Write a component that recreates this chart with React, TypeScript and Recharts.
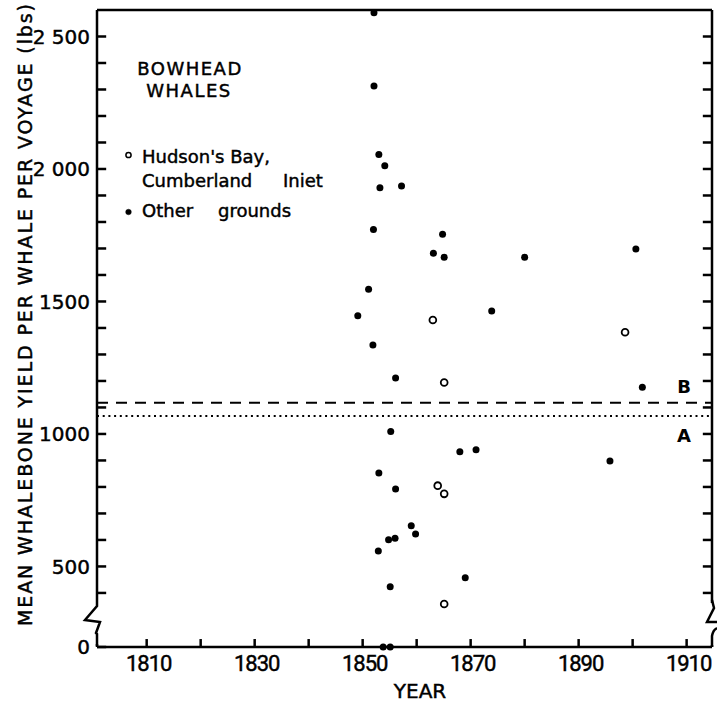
import React from 'react';
import { ScatterChart, Scatter, XAxis, YAxis, ReferenceLine, Legend } from 'recharts';

// Hudson's Bay / Cumberland Inlet voyages (open circles)
const hudsonYears = [1863.0, 1863.9, 1865.1, 1865.1, 1865.1, 1898.6];
const hudsonYield = [1430, 805, 1194, 774, 358, 1384];

// Other grounds (filled dots)
const otherYears = [
  1852.1, 1852.1, 1853.0, 1854.1, 1853.2, 1857.2, 1852.0, 1864.8, 1863.1, 1865.1, 1880.0,
  1900.6, 1851.1, 1849.1, 1873.9, 1851.9, 1856.1, 1901.8, 1855.2, 1868.0, 1871.0, 1895.8,
  1853.0, 1856.1, 1859.0, 1859.8, 1854.8, 1856.0, 1852.9, 1869.0, 1855.1, 1853.8, 1855.1,
];
const otherYield = [
  2590, 2313, 2055, 2012, 1929, 1936, 1772, 1754, 1682, 1667, 1667,
  1698, 1546, 1446, 1464, 1336, 1211, 1176, 1009, 933, 940, 898,
  853, 792, 654, 622, 601, 606, 558, 457, 423, 0, 0,
];

// mean yields: A (dotted), B (dashed)
const meanA = 1068;
const meanB = 1118;

const xTicks = [1810, 1820, 1830, 1840, 1850, 1860, 1870, 1880, 1890, 1900, 1910];
const xTickLabels = ['1810', '', '1830', '', '1850', '', '1870', '', '1890', '', '1910'];
const yTicks = [0, 400, 500, 600, 700, 800, 900, 1000, 1100, 1200, 1300, 1400, 1500, 1600, 1700, 1800, 1900, 2000, 2100, 2200, 2300, 2400, 2500];
const yMajorTicks = [0, 500, 1000, 1500, 2000, 2500];
const yMajorLabels = ['0', '500', '1000', '1500', '2 000', '2 500'];

// the y axis is broken below 300 lbs: squeeze 0..300 into a short stretch
const BREAK_TOP = 300;
const AXIS_FLOOR = 196;
const plotYield = (v: number) => (v < BREAK_TOP ? AXIS_FLOOR + (v / BREAK_TOP) * (BREAK_TOP - AXIS_FLOOR) : v);

const X_DOMAIN: [number, number] = [1800.8, 1914.7];
const Y_DOMAIN: [number, number] = [AXIS_FLOOR, 2600];

const hudsonData = hudsonYears.map((year, i) => ({ year, y: plotYield(hudsonYield[i]) }));
const otherData = otherYears.map((year, i) => ({ year, y: plotYield(otherYield[i]) }));

const FONT = '"DejaVu Sans", Arial, sans-serif';
const INK = { fill: '#000', stroke: '#000', strokeWidth: 0.45 };

const xTickFormat = (v: number) => xTickLabels[xTicks.indexOf(v)] ?? '';
const yTickFormat = (v: number) => {
  const i = yMajorTicks.map(plotYield).indexOf(v);
  return i >= 0 ? yMajorLabels[i] : '';
};

const LeftTick = (p: any) => (
  <text x={Number(p.x)} y={Number(p.y)} dy="0.36em" textAnchor="end" fontFamily={FONT} fontSize={20} {...INK}>
    {yTickFormat(p.payload.value)}
  </text>
);
const BottomTick = (p: any) => (
  <text x={Number(p.x) + 2} y={Number(p.y)} dy="0.72em" textAnchor="middle" fontFamily='"Liberation Sans Narrow", "Roboto", sans-serif' fontSize={22} letterSpacing={-1} {...INK}>
    {xTickFormat(p.payload.value)}
  </text>
);

// inward tick marks, as short segments in axis units
const TICK_X = 1.7; // years
const TICK_Y = 30; // lbs
const tickStyle = { stroke: '#000', strokeWidth: 2.5, ifOverflow: 'visible' as const };

const OpenDot = (p: any) => <circle cx={p.cx} cy={p.cy} r={3.4} fill="#fff" stroke="#000" strokeWidth={1.8} />;
const FilledDot = (p: any) => <circle cx={p.cx} cy={p.cy} r={3.5} fill="#000" />;

function Key() {
  return (
    <svg width={330} height={230} style={{ display: 'block' }}>
      <g fontFamily={FONT} fontSize={18} {...INK}>
        <text x={190} y={75} textAnchor="middle" letterSpacing={1.5}>BOWHEAD</text>
        <text x={189} y={97} textAnchor="middle" letterSpacing={1.5}>WHALES</text>
        <circle cx={128.5} cy={155} r={2.6} fill="#fff" stroke="#000" strokeWidth={1.5} />
        <text x={142} y={163}>Hudson's Bay,</text>
        <text y={187}>
          <tspan x={142}>Cumberland</tspan>
          <tspan x={283}>Iniet</tspan>
        </text>
        <circle cx={128.5} cy={212} r={2.8} fill="#000" />
        <text y={217}>
          <tspan x={142}>Other</tspan>
          <tspan x={218}>grounds</tspan>
        </text>
      </g>
    </svg>
  );
}

const yTitle = () => (
  <text
    x={32}
    y={315}
    transform="rotate(-90, 32, 315)"
    textAnchor="middle"
    fontFamily={FONT}
    fontSize={19}
    textLength={622}
    lengthAdjust="spacing"
    {...INK}
  >
    MEAN WHALEBONE YIELD PER WHALE PER VOYAGE (lbs)
  </text>
);

const xTitle = () => (
  <text x={420} y={698} textAnchor="middle" fontFamily={FONT} fontSize={20} {...INK}>
    YEAR
  </text>
);

const lineLabel = (text: string, dy: number) => (props: any) => {
  const vb = props.viewBox || {};
  return (
    <text x={vb.x + vb.width - 28} y={vb.y + dy} textAnchor="middle" fontFamily={FONT} fontSize={18} fontWeight="bold" fill="#000">
      {text}
    </text>
  );
};

export default function App() {
  return (
    <div style={{ position: 'absolute', left: 0, top: 0, width: 717, height: 704 }}>
      <ScatterChart width={717} height={704} margin={{ top: 10, right: 4, left: 0, bottom: 0 }}>
        <XAxis
          type="number"
          dataKey="year"
          domain={X_DOMAIN}
          ticks={xTicks}
          height={57}
          tickSize={0}
          tickMargin={8}
          axisLine={{ stroke: '#000', strokeWidth: 2.5 }}
          tickLine={false}
          tick={BottomTick}
          label={{ content: xTitle }}
        />
        <YAxis
          yAxisId="left"
          type="number"
          dataKey="y"
          domain={Y_DOMAIN}
          ticks={yTicks.map(plotYield)}
          width={97}
          tickSize={0}
          tickMargin={7}
          axisLine={{ stroke: '#000', strokeWidth: 2.5 }}
          tickLine={false}
          tick={LeftTick}
          label={{ content: yTitle }}
        />
        <YAxis
          yAxisId="right"
          orientation="right"
          type="number"
          domain={Y_DOMAIN}
          width={1}
          tick={false}
          tickLine={false}
          axisLine={{ stroke: '#000', strokeWidth: 2.5 }}
        />
        <ReferenceLine yAxisId="left" y={2600} stroke="#000" strokeWidth={2.5} />

        {yTicks.map((v) => (
          <ReferenceLine
            key={`l${v}`}
            yAxisId="left"
            segment={[{ x: X_DOMAIN[0], y: plotYield(v) }, { x: X_DOMAIN[0] + TICK_X, y: plotYield(v) }]}
            {...tickStyle}
          />
        ))}
        {yTicks.slice(1).map((v) => (
          <ReferenceLine
            key={`r${v}`}
            yAxisId="left"
            segment={[{ x: X_DOMAIN[1] - TICK_X, y: plotYield(v) }, { x: X_DOMAIN[1], y: plotYield(v) }]}
            {...tickStyle}
          />
        ))}
        {xTicks.map((v) => (
          <ReferenceLine
            key={`b${v}`}
            yAxisId="left"
            segment={[{ x: v, y: Y_DOMAIN[0] }, { x: v, y: Y_DOMAIN[0] + TICK_Y }]}
            {...tickStyle}
          />
        ))}

        <ReferenceLine
          yAxisId="left"
          y={meanB}
          stroke="#000"
          strokeWidth={2}
          strokeDasharray="11 8"
          label={{ content: lineLabel('B', -10) }}
        />
        <ReferenceLine
          yAxisId="left"
          y={meanA}
          stroke="#000"
          strokeWidth={2}
          strokeDasharray="2 3.7"
          label={{ content: lineLabel('A', 26) }}
        />
        <Scatter yAxisId="left" name="Hudson's Bay, Cumberland Iniet" data={hudsonData} shape={OpenDot} isAnimationActive={false} />
        <Scatter yAxisId="left" name="Other grounds" data={otherData} shape={FilledDot} isAnimationActive={false} />
        <Legend
          layout="vertical"
          align="center"
          verticalAlign="middle"
          content={() => <Key />}
          wrapperStyle={{ position: 'absolute', left: 0, top: 0, width: 330, height: 230, pointerEvents: 'none' }}
        />
      </ScatterChart>
      {/* axis break marks */}
      <svg width={717} height={704} style={{ position: 'absolute', left: 0, top: 0, pointerEvents: 'none' }}>
        <rect x={89} y={599} width={15} height={45} fill="#fff" />
        <path d="M97,599 L97,606 L85,620 L100,622 L96,633 L97,634 L97,646" fill="none" stroke="#000" strokeWidth={2.5} />
        <rect x={705} y={603} width={12} height={42} fill="#fff" />
        <path d="M712,600 L714,608 L707,622 L717,622" fill="none" stroke="#000" strokeWidth={2.5} />
        <path d="M712,647 L712,636 Q713,630 717,628" fill="none" stroke="#000" strokeWidth={2.5} />
      </svg>
    </div>
  );
}
